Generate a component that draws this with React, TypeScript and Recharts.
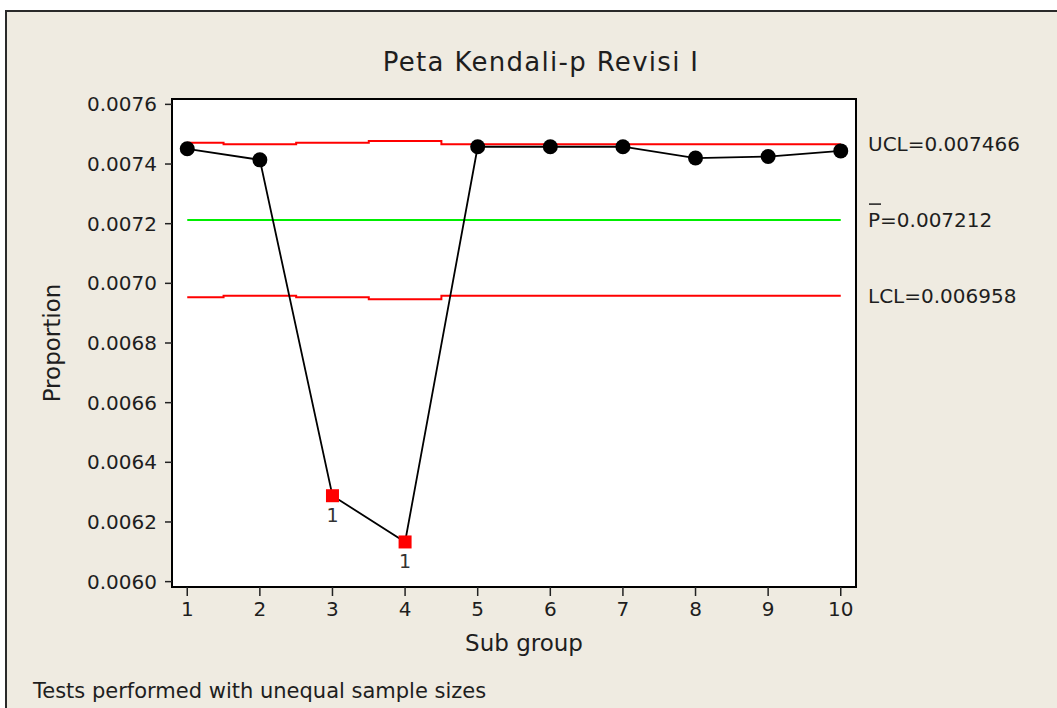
import React from "react";
import { LineChart, Line, XAxis, YAxis, ReferenceLine, ReferenceArea, CartesianGrid } from "recharts";

const subgroups = [1, 2, 3, 4, 5, 6, 7, 8, 9, 10];
const proportions = [0.007451, 0.007414, 0.006288, 0.006133, 0.007458, 0.007458, 0.007458, 0.00742, 0.007425, 0.007444];
const uclValues = [0.007471, 0.007466, 0.007471, 0.007477, 0.007466, 0.007466, 0.007466, 0.007466, 0.007466, 0.007466];
const lclValues = [0.006953, 0.006958, 0.006953, 0.006947, 0.006958, 0.006958, 0.006958, 0.006958, 0.006958, 0.006958];
const pBar = 0.007212;
const yTicks = [0.006, 0.0062, 0.0064, 0.0066, 0.0068, 0.007, 0.0072, 0.0074, 0.0076];
const xDomain: [number, number] = [0.79, 10.21];
const yDomain: [number, number] = [0.005982, 0.007618];

const FONT = "'DejaVu Sans', sans-serif";
const TEXT = "#1e1e1e";

const rows = subgroups.map((sg, i) => ({
  sg,
  p: proportions[i],
  ucl: uclValues[i],
  lcl: lclValues[i],
  center: pBar,
}));

function PointMark(props: any) {
  const { cx, cy, payload } = props;
  if (cx == null || cy == null) return null;
  const out = payload.p > payload.ucl || payload.p < payload.lcl;
  if (out) {
    return (
      <g>
        <rect x={cx - 6.5} y={cy - 6.5} width={13} height={13} fill="#ff0000" />
        <text x={cx} y={cy + 26} textAnchor="middle" fontSize={19} fill="#333" fontFamily={FONT}>1</text>
      </g>
    );
  }
  return <circle cx={cx} cy={cy} r={7.5} fill="#000" />;
}

function LimitLabel(props: any) {
  const { viewBox, text, bar } = props;
  if (!viewBox) return null;
  const x = viewBox.x + viewBox.width + 12;
  const y = viewBox.y;
  return (
    <g>
      {bar && <line x1={x + 1} x2={x + 13} y1={y - 16} y2={y - 16} stroke={TEXT} strokeWidth={1.5} />}
      <text x={x} y={y} dominantBaseline="central" fontSize={20} fill={TEXT} fontFamily={FONT}>{text}</text>
    </g>
  );
}

export default function App() {
  return (
    <div
      style={{
        position: "absolute",
        left: 5,
        top: 10,
        width: 1052,
        height: 698,
        boxSizing: "border-box",
        borderLeft: "2px solid #2a2a2a",
        borderTop: "2px solid #2a2a2a",
        background: "#efebe1",
        fontFamily: FONT,
        color: TEXT,
        overflow: "hidden",
      }}
    >
      <div style={{ position: "absolute", left: 534, top: 37, transform: "translateX(-50%)", fontSize: 26, lineHeight: "26px", letterSpacing: 1.3, whiteSpace: "nowrap" }}>
        Peta Kendali-p Revisi I
      </div>

      <LineChart width={1050} height={696} data={rows} margin={{ top: 87, right: 201, left: 85, bottom: 81 }}>
        <CartesianGrid horizontal={false} vertical={false} fill="#ffffff" />
        <XAxis
          dataKey="sg"
          type="number"
          domain={xDomain}
          ticks={subgroups}
          allowDataOverflow
          height={40}
          tickSize={9}
          tickMargin={6}
          axisLine={{ stroke: "#000", strokeWidth: 2 }}
          tickLine={{ stroke: "#222", strokeWidth: 1.5 }}
          tick={{ fontSize: 20, fill: TEXT, fontFamily: FONT }}
        />
        <YAxis
          type="number"
          domain={yDomain}
          ticks={yTicks}
          allowDataOverflow
          width={80}
          tickSize={7}
          tickMargin={8}
          tickFormatter={(v: number) => v.toFixed(4)}
          axisLine={{ stroke: "#000", strokeWidth: 2 }}
          tickLine={{ stroke: "#222", strokeWidth: 1.5 }}
          tick={{ fontSize: 20, fill: TEXT, fontFamily: FONT }}
        />

        <ReferenceArea x1={xDomain[0]} x2={xDomain[1]} y1={yDomain[0]} y2={yDomain[1]} fill="none" stroke="#000" strokeWidth={2} ifOverflow="visible" />

        <ReferenceLine y={uclValues[uclValues.length - 1]} stroke="none" label={<LimitLabel text="UCL=0.007466" />} />
        <ReferenceLine y={pBar} stroke="none" label={<LimitLabel text="P=0.007212" bar />} />
        <ReferenceLine y={lclValues[lclValues.length - 1]} stroke="none" label={<LimitLabel text="LCL=0.006958" />} />

        <Line dataKey="ucl" type="step" stroke="#ff0000" strokeWidth={2} dot={false} activeDot={false} isAnimationActive={false} />
        <Line dataKey="lcl" type="step" stroke="#ff0000" strokeWidth={2} dot={false} activeDot={false} isAnimationActive={false} />
        <Line dataKey="center" type="linear" stroke="#00ee00" strokeWidth={2} dot={false} activeDot={false} isAnimationActive={false} />
        <Line
          dataKey="p"
          type="linear"
          stroke="#000"
          strokeWidth={1.8}
          dot={(props: any) => <PointMark key={props.index} {...props} />}
          activeDot={false}
          isAnimationActive={false}
        />
      </LineChart>

      <div style={{ position: "absolute", left: 517, top: 620, transform: "translateX(-50%)", fontSize: 23, lineHeight: "23px", whiteSpace: "nowrap" }}>
        Sub group
      </div>
      <div style={{ position: "absolute", left: 45, top: 331, transform: "translate(-50%, -50%) rotate(-90deg)", fontSize: 23, lineHeight: "23px", whiteSpace: "nowrap" }}>
        Proportion
      </div>
      <div style={{ position: "absolute", left: 26, top: 669, fontSize: 21, lineHeight: "21px", whiteSpace: "nowrap" }}>
        Tests performed with unequal sample sizes
      </div>
    </div>
  );
}
